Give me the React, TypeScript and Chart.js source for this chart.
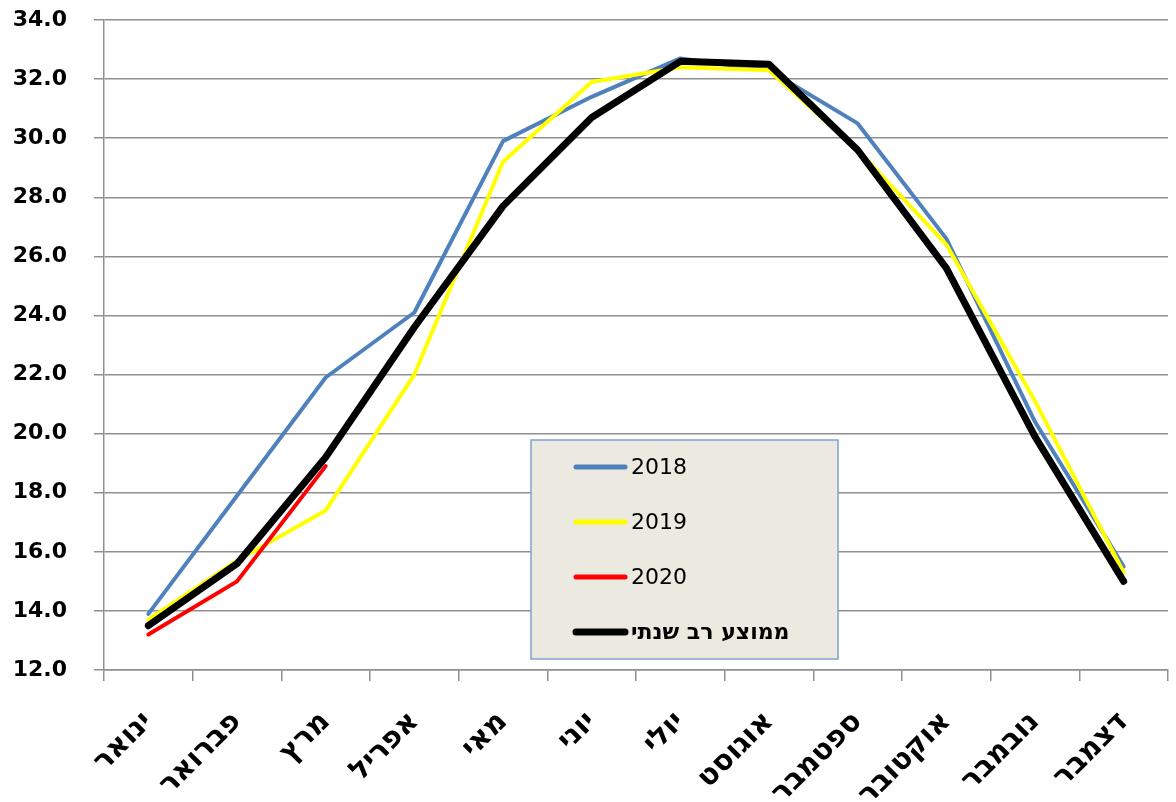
import React, { useEffect, useRef } from "react";
import { Chart, registerables } from "chart.js";

Chart.register(...registerables);

const months = ["ינואר", "פברואר", "מרץ", "אפריל", "מאי", "יוני", "יולי", "אוגוסט", "ספטמבר", "אוקטובר", "נובמבר", "דצמבר"];
const s2018 = [13.9, 17.9, 21.9, 24.1, 29.9, 31.4, 32.7, 32.3, 30.5, 26.6, 20.4, 15.5];
const s2019 = [13.7, 15.7, 17.4, 22.0, 29.2, 31.9, 32.4, 32.3, 29.6, 26.4, 21.1, 15.3];
const s2020 = [13.2, 15.0, 18.9, null, null, null, null, null, null, null, null, null];
const avgMulti = [13.5, 15.6, 19.2, 23.6, 27.7, 30.7, 32.6, 32.5, 29.6, 25.6, 19.9, 15.0];
const seriesNames = ["2018", "2019", "2020", "ממוצע רב שנתי"];
const yMin = 12;
const yMax = 34;
const yStep = 2;

const GRID = "#8f8f8f";

const legendPlugin = {
  id: "boxLegend",
  afterDatasetsDraw(chart: any) {
    const ctx = chart.ctx;
    const bx = 531, by = 440, bw = 307, bh = 219;
    ctx.save();
    ctx.fillStyle = "#ECEAE0";
    ctx.fillRect(bx, by, bw, bh);
    ctx.strokeStyle = "#7FA0D2";
    ctx.lineWidth = 1.5;
    ctx.strokeRect(bx, by, bw, bh);
    const rows = [467, 522, 577, 632];
    chart.data.datasets.forEach((ds: any, i: number) => {
      const y = rows[i];
      ctx.strokeStyle = ds.borderColor;
      ctx.lineWidth = ds.legendWidth;
      ctx.lineCap = "round";
      ctx.beginPath();
      ctx.moveTo(576, y);
      ctx.lineTo(625, y);
      ctx.stroke();
      ctx.fillStyle = "#000";
      ctx.textBaseline = "middle";
      ctx.textAlign = "left";
      ctx.font = i === 3 ? "bold 22px 'DejaVu Sans', sans-serif" : "22px 'DejaVu Sans', sans-serif";
      ctx.fillText(ds.label, 631, y + 1);
    });
    ctx.restore();
  },
};

export default function App() {
  const ref = useRef<HTMLCanvasElement>(null);
  useEffect(() => {
    document.body.style.margin = "0";
    const canvas = ref.current!;
    const chart = new Chart(canvas, {
      type: "line",
      data: {
        labels: months,
        datasets: [
          { label: seriesNames[0], data: s2018, borderColor: "#4F81BD", borderWidth: 4, legendWidth: 5, order: 4 } as any,
          { label: seriesNames[1], data: s2019, borderColor: "#FFFF00", borderWidth: 4, legendWidth: 5, order: 3 } as any,
          { label: seriesNames[2], data: s2020, borderColor: "#FF0000", borderWidth: 4, legendWidth: 5, order: 2 } as any,
          { label: seriesNames[3], data: avgMulti, borderColor: "#000000", borderWidth: 7, legendWidth: 7, order: 1 } as any,
        ],
      },
      options: {
        animation: false,
        responsive: false,
        devicePixelRatio: 1,
        spanGaps: false,
        layout: { padding: { top: 20, right: 8, left: 0, bottom: 0 } },
        elements: {
          point: { radius: 0, hoverRadius: 0 },
          line: { tension: 0, borderJoinStyle: "round", borderCapStyle: "round", fill: false },
        },
        plugins: { legend: { display: false }, tooltip: { enabled: false } },
        scales: {
          x: {
            offset: true,
            grid: { offset: true, drawOnChartArea: false, drawTicks: true, tickLength: 11, color: GRID, lineWidth: 1.5 },
            border: { display: true, color: GRID, width: 1.5 },
            ticks: {
              autoSkip: false,
              minRotation: 45,
              maxRotation: 45,
              padding: 24,
              color: "#000",
              font: { family: "'DejaVu Sans', sans-serif", size: 29, weight: "bold" },
            },
            afterFit(scale: any) {
              scale.height = 132;
              scale.paddingLeft = 0;
              scale.paddingRight = 0;
            },
          },
          y: {
            min: yMin,
            max: yMax,
            grid: { color: GRID, lineWidth: 1.5, tickLength: 10 },
            border: { display: true, color: GRID, width: 1.5 },
            ticks: {
              stepSize: yStep,
              padding: 27,
              color: "#000",
              font: { family: "'DejaVu Sans', sans-serif", size: 22, weight: "bold" },
              callback: (v: any) => Number(v).toFixed(1),
            },
            afterFit(scale: any) {
              scale.width = 104;
              scale.paddingTop = 0;
              scale.paddingBottom = 0;
            },
          },
        },
      },
      plugins: [legendPlugin],
    } as any);
    return () => chart.destroy();
  }, []);
  return (
    <div style={{ width: 1176, height: 802, background: "#fff" }}>
      <canvas ref={ref} width={1176} height={802} />
    </div>
  );
}
